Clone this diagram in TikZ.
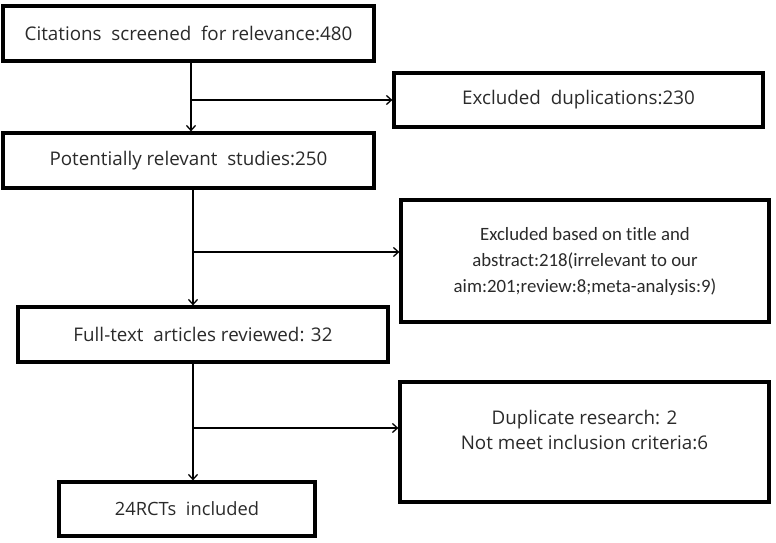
\documentclass[tikz,border=0pt]{standalone}
\usepackage{fontspec}
\setmainfont{Open Sans}
\newfontfamily\calib[Ligatures=NoCommon]{Carlito}
\usetikzlibrary{arrows.meta}
\definecolor{txt}{HTML}{2A2A2A}
\tikzset{
  box/.style={draw=black, line width=3.2pt, rectangle, inner sep=0pt, text=txt, font=\fontsize{18.8}{24}\selectfont, align=center},
  conn/.style={draw=black, line width=1.8pt},
  arr/.style={-{Straight Barb[length=5pt,width=9pt,line width=1.3pt]}},
  harr/.style={draw=black, line width=1.3pt, -{Straight Barb[length=5pt,width=9pt]}}
}
\begin{document}
\begin{tikzpicture}[x=1pt,y=-1pt]
\useasboundingbox (0,0) rectangle (776,543);
\node[box, minimum width=371pt, minimum height=55pt] (b1) at (188.5,33.5) {Citations\ \ screened\ \ for relevance:480};
\node[box, minimum width=369pt, minimum height=54pt] (b2) at (578.5,100) {Excluded\ \ duplications:230};
\node[box, minimum width=371pt, minimum height=55pt] (b3) at (188.5,160.5) {Potentially relevant\ \ studies:250};
\node[box, minimum width=368pt, minimum height=122pt, font=\calib\fontsize{18.8}{26}\selectfont] (b3r) at (585,261) {Excluded based on title and\\abstract:218(irrelevant to our\\aim:201;review:8;meta-analysis:9)};
\node[box, minimum width=370pt, minimum height=55pt] (b4) at (203,334.5) {Full-text\ \ articles reviewed: 32};
\node[box, minimum width=369pt, minimum height=120pt, font=\fontsize{18.8}{25}\selectfont] (b5) at (584.5,442) {Duplicate research: 2\\Not meet inclusion criteria:6\\\mbox{}};
\node[box, minimum width=256pt, minimum height=54pt, font=\fontsize{18.3}{24}\selectfont] (b6) at (187,509) {24RCTs\ \ included};
% connectors
\coordinate (j1) at (191,100);
\coordinate (j2) at (193,252);
\coordinate (j3) at (193,428);
\draw[conn, arr] ([xshift=2.5pt]b1.south) -- ([xshift=2.5pt]b3.north);
\draw[harr] (j1) -- (b2.west);
\draw[conn, line width=2.8pt, arr] ([xshift=4.5pt]b3.south) -- (b4.north -| j2);
\draw[harr] (j2) -- (j2 -| b3r.west);
\draw[conn, line width=2.8pt, arr] (b4.south -| j3) -- (b6.north -| j3);
\draw[harr] (j3) -- (j3 -| b5.west);
\end{tikzpicture}
\end{document}
